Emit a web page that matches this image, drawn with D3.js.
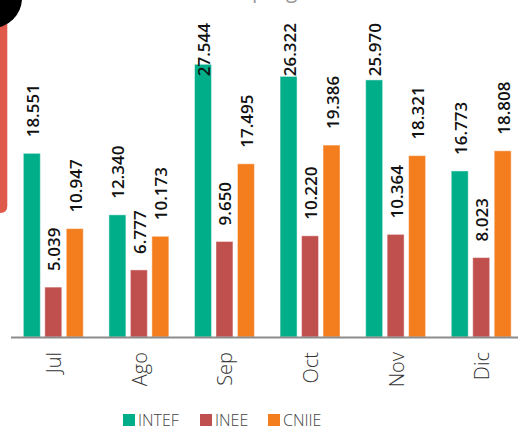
<!DOCTYPE html>
<html>
<head>
<meta charset="utf-8">
<script src="https://cdn.jsdelivr.net/npm/d3@7"></script>
<style>
  html, body { margin: 0; padding: 0; background: #fff; overflow: hidden; }
  svg { display: block; }
</style>
</head>
<body>
<script>
// data
var meses = ["Jul", "Ago", "Sep", "Oct", "Nov", "Dic"];
var series = ["INTEF", "INEE", "CNIIE"];
var intef = [18551, 12340, 27544, 26322, 25970, 16773];
var inee = [5039, 6777, 9650, 10220, 10364, 8023];
var cniie = [10947, 10173, 17495, 19386, 18321, 18808];
var colores = ["#00af8a", "#c0504d", "#f47d1e"];

var W = 518, H = 428;
var baseY = 337, topY = 40;
var valores = [intef, inee, cniie];

var es = d3.formatLocale({decimal: ",", thousands: ".", grouping: [3], currency: ["", "€"]});
var fmt = es.format(",d");

var svg = d3.select("body").append("svg").attr("width", W).attr("height", H);

/**
 * Page bits around the chart (clipped title, side tab, round badge).
 */
var title = svg.append("text")
    .attr("y", -2)
    .attr("fill", "#9a9a9a")
    .style("font-family", "'Open Sans', sans-serif")
    .style("font-size", "21px")
    .text("Visitas al programa");
title.attr("x", 252 - title.node().getSubStringLength(0, 11));

svg.append("path")
    .attr("d", "M0,0 H7.3 V206 Q7.3,213 0.3,213 H0 Z")
    .attr("fill", "#e05a4c");
svg.append("circle").attr("cx", -8).attr("cy", -2).attr("r", 30).attr("fill", "#000");

/**
 * Scales.
 */
var x0 = d3.scaleBand().domain(meses).range([10.5, 524]).paddingInner(0.3).paddingOuter(0.15);
var x1 = d3.scaleBand().domain(series).range([0, x0.bandwidth()]).paddingInner(0.21);
var y = d3.scaleLinear().domain([0, 30000]).range([baseY, baseY - 297]);

var rows = meses.map(function (m, i) {
    return series.map(function (s, j) { return {mes: m, serie: s, j: j, v: valores[j][i]}; });
});

var grupos = svg.selectAll("g.mes").data(rows).enter().append("g")
    .attr("class", "mes")
    .attr("transform", function (d, i) { return "translate(" + x0(meses[i]) + ",0)"; });

grupos.selectAll("rect").data(function (d) { return d; }).enter().append("rect")
    .attr("x", function (d) { return x1(d.serie); })
    .attr("y", function (d) { return y(d.v); })
    .attr("width", x1.bandwidth())
    .attr("height", function (d) { return baseY - y(d.v); })
    .attr("fill", function (d) { return colores[d.j]; })
    .attr("stroke", "#ffffff").attr("stroke-opacity", 0.45).attr("stroke-width", 1);

grupos.selectAll("text").data(function (d) { return d; }).enter().append("text")
    .attr("text-anchor", "start")
    .style("font-family", "'Open Sans', sans-serif")
    .style("font-weight", "600")
    .style("font-size", "17px")
    .attr("fill", "#111")
    .text(function (d) { return fmt(d.v); })
    .each(function (d) {
        var len = this.getComputedTextLength();
        var cx = x1(d.serie) + x1.bandwidth() / 2 + 7;
        var yy = Math.max(y(d.v) - 16, 23 + len);
        d3.select(this).attr("transform", "translate(" + cx + "," + yy + ") rotate(-90)");
    });

/**
 * Category axis.
 */
var ejeX = svg.append("g").attr("transform", "translate(0," + baseY + ")")
    .call(d3.axisBottom(x0).tickSize(0).tickPadding(0));
ejeX.select(".domain").attr("stroke", "#8c8c8c").attr("stroke-width", 2);
ejeX.selectAll("text")
    .attr("text-anchor", "end")
    .attr("dy", null)
    .attr("y", 0)
    .attr("x", 0)
    .attr("transform", "translate(8,15) rotate(-90)")
    .attr("fill", "#333")
    .style("font-family", "'Open Sans', sans-serif")
    .style("font-weight", "300")
    .style("font-size", "20px");

/**
 * Legend.
 */
var leg = svg.append("g").attr("transform", "translate(123,414)");
var legX = [0, 77, 145];
var items = leg.selectAll("g").data(series).enter().append("g")
    .attr("transform", function (d, i) { return "translate(" + legX[i] + ",0)"; });
items.append("rect").attr("width", 12).attr("height", 12)
    .attr("fill", function (d, i) { return colores[i]; });
items.append("text").attr("x", 15).attr("y", 12)
    .attr("fill", "#444")
    .style("font-family", "'Open Sans', sans-serif")
    .style("font-weight", "300")
    .style("font-size", "16px")
    .text(function (d) { return d; });
</script>
</body>
</html>
